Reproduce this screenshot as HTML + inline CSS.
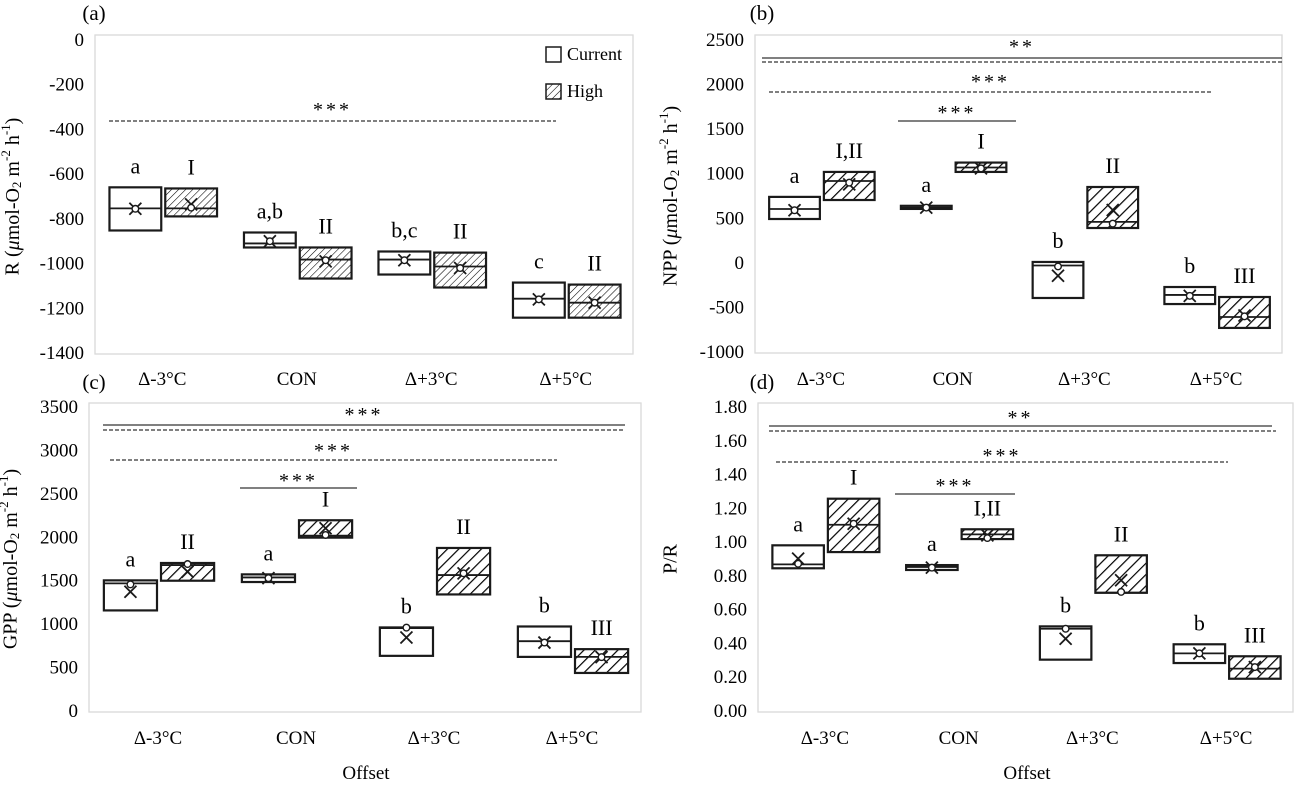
<!DOCTYPE html>
<html><head><meta charset="utf-8">
<style>
html,body{margin:0;padding:0;background:#fff;}
svg, svg text, svg tspan{font-family:"Liberation Serif","Times New Roman",serif;}
</style></head>
<body>
<svg id="chart" width="1296" height="780" viewBox="0 0 1296 780" xmlns="http://www.w3.org/2000/svg" font-family="Liberation Serif, serif">
<defs>
<pattern id="hatchA" patternUnits="userSpaceOnUse" width="5" height="5" patternTransform="rotate(45)"><line x1="0" y1="0" x2="0" y2="5" stroke="#000" stroke-width="1.1"/></pattern>
<pattern id="hatchB" patternUnits="userSpaceOnUse" width="8" height="8" patternTransform="rotate(45)"><line x1="0" y1="0" x2="0" y2="8" stroke="#000" stroke-width="2.4"/></pattern>
</defs>
</svg>
<script>
const categories=["Δ-3°C","CON","Δ+3°C","Δ+5°C"];
// Panel a (R)
const aTicks=[0,-200,-400,-600,-800,-1000,-1200,-1400];
const aCurQ3=[-659,-861,-946,-1085];
const aCurQ1=[-852,-928,-1049,-1242];
const aCurMed=[-753,-910,-982,-1157];
const aCurMean=[-755,-900,-985,-1160];
const aCurPt=[-755,-900,-985,-1160];
const aHiQ3=[-664,-928,-951,-1094];
const aHiQ1=[-789,-1067,-1107,-1242];
const aHiMed=[-753,-982,-1013,-1175];
const aHiMean=[-735,-990,-1020,-1175];
const aHiPt=[-750,-985,-1020,-1175];
const aCurLbl=["a","a,b","b,c","c"];
const aHiLbl=["I","II","II","II"];
// Panel b (NPP)
const bTicks=[2500,2000,1500,1000,500,0,-500,-1000];
const bCurQ3=[740,640,10,-271];
const bCurQ1=[492,605,-394,-462];
const bCurMed=[604,620,-30,-360];
const bCurMean=[590,620,-145,-370];
const bCurPt=[590,620,-40,-370];
const bHiQ3=[1020,1125,851,-383];
const bHiQ1=[705,1020,391,-730];
const bHiMed=[918,1070,460,-607];
const bHiMean=[880,1060,593,-590];
const bHiPt=[900,1060,440,-600];
const bCurLbl=["a","a","b","b"];
const bHiLbl=["I,II","I","II","III"];
// Panel c (GPP)
const cTicks=[3500,3000,2500,2000,1500,1000,500,0];
const cCurQ3=[1504,1573,962,973];
const cCurQ1=[1158,1485,635,623];
const cCurMed=[1469,1538,955,804];
const cCurMean=[1373,1530,846,788];
const cCurPt=[1458,1530,960,788];
const cHiQ3=[1704,2196,1877,712];
const cHiQ1=[1500,1996,1342,438];
const cHiMed=[1680,2019,1565,623];
const cHiMean=[1604,2104,1585,620];
const cHiPt=[1692,2027,1585,620];
const cCurLbl=["a","a","b","b"];
const cHiLbl=["II","I","II","III"];
// Panel d (P/R)
const dTicks=[1.8,1.6,1.4,1.2,1.0,0.8,0.6,0.4,0.2,0.0];
const dCurQ3=[0.981,0.864,0.501,0.395];
const dCurQ1=[0.845,0.835,0.304,0.284];
const dCurMed=[0.868,0.853,0.487,0.341];
const dCurMean=[0.902,0.849,0.428,0.341];
const dCurPt=[0.872,0.849,0.487,0.341];
const dHiQ3=[1.257,1.076,0.922,0.324];
const dHiQ1=[0.941,1.018,0.70,0.191];
const dHiMed=[1.103,1.046,0.70,0.251];
const dHiMean=[1.109,1.04,0.774,0.26];
const dHiPt=[1.109,1.024,0.705,0.26];
const dCurLbl=["a","a","b","b"];
const dHiLbl=["I","I,II","II","III"];

const NS="http://www.w3.org/2000/svg";
const svg=document.getElementById('chart');
function mk(tag,attrs,parent,text){const e=document.createElementNS(NS,tag);for(const k in attrs)e.setAttribute(k,attrs[k]);if(tag==='text')e.setAttribute('font-family','Liberation Serif, serif');if(text!==undefined)e.textContent=text;(parent||svg).appendChild(e);return e;}

const panels=[
 {id:'a',letter:'(a)',lx:94,ly:20,left:95,right:633,top:35,bottom:354,yTop:40,yBot:353,max:0,min:-1400,ticks:aTicks,dec:0,
  cur:[aCurQ3,aCurQ1,aCurMed,aCurMean,aCurPt],hi:[aHiQ3,aHiQ1,aHiMed,aHiMean,aHiPt],curL:aCurLbl,hiL:aHiLbl,hatch:'hatchA',
  title:'R',titleX:14,xlY:385,legend:true,
  sig:[{t:'***',x1:109,x2:556,y:121,dash:true,ty:106}]},
 {id:'b',letter:'(b)',lx:762,ly:20,left:755,right:1282,top:35,bottom:353,yTop:40,yBot:352,max:2500,min:-1000,ticks:bTicks,dec:0,
  cur:[bCurQ3,bCurQ1,bCurMed,bCurMean,bCurPt],hi:[bHiQ3,bHiQ1,bHiMed,bHiMean,bHiPt],curL:bCurLbl,hiL:bHiLbl,hatch:'hatchB',
  title:'NPP',titleX:672,xlY:385,
  sig:[{t:'**',x1:762,x2:1282,y:58,dash:false,ty:43},{t:'',x1:762,x2:1282,y:62,dash:true},
       {t:'***',x1:769,x2:1212,y:92,dash:true,ty:78},{t:'***',x1:898,x2:1016,y:121,dash:false,ty:109}]},
 {id:'c',letter:'(c)',lx:94,ly:389,left:89,right:641,top:403,bottom:712,yTop:407,yBot:711,max:3500,min:0,ticks:cTicks,dec:0,
  cur:[cCurQ3,cCurQ1,cCurMed,cCurMean,cCurPt],hi:[cHiQ3,cHiQ1,cHiMed,cHiMean,cHiPt],curL:cCurLbl,hiL:cHiLbl,hatch:'hatchB',
  title:'GPP',titleX:12,xlY:744,offsetX:366,
  sig:[{t:'***',x1:103,x2:625,y:425,dash:false,ty:411},{t:'',x1:103,x2:625,y:430,dash:true},
       {t:'***',x1:110,x2:557,y:460,dash:true,ty:447},{t:'***',x1:240,x2:357,y:488,dash:false,ty:477}]},
 {id:'d',letter:'(d)',lx:762,ly:389,left:758,right:1293,top:403,bottom:712,yTop:407,yBot:711,max:1.8,min:0,ticks:dTicks,dec:2,
  cur:[dCurQ3,dCurQ1,dCurMed,dCurMean,dCurPt],hi:[dHiQ3,dHiQ1,dHiMed,dHiMean,dHiPt],curL:dCurLbl,hiL:dHiLbl,hatch:'hatchB',
  title:'P/R',plain:true,titleX:672,xlY:744,offsetX:1027,
  sig:[{t:'**',x1:769,x2:1272,y:426,dash:false,ty:414},{t:'',x1:769,x2:1276,y:431,dash:true},
       {t:'***',x1:776,x2:1228,y:462,dash:true,ty:452},{t:'***',x1:895,x2:1015,y:494,dash:false,ty:482}]}
];

panels.forEach(p=>{
  const g=mk('g',{});
  
  
  const Y=v=>p.yTop+(p.max-v)/(p.max-p.min)*(p.yBot-p.yTop);
  const band=(p.right-p.left)/4;
  const X=i=>p.left+band*(i+0.5);
  const frame=mk('rect',{x:p.left,y:p.top,width:p.right-p.left,height:p.bottom-p.top,fill:'none',stroke:'#d9d9d9','stroke-width':1.3},g);
  
  
  const pl=mk('text',{x:p.lx,y:p.ly,'font-size':21,'text-anchor':'middle'},g,p.letter);
  
  
  p.ticks.forEach(t=>{
    const tx=mk('text',{x:p.left-11,y:Y(t)+6,'font-size':19,'text-anchor':'end'},g,t.toFixed(p.dec));
    
    
  });
  const cy=(p.yTop+p.yBot)/2;
  const tt=mk('text',{x:p.titleX,y:cy,'font-size':20,'text-anchor':'middle',transform:`rotate(-90 ${p.titleX} ${cy})`,'dominant-baseline':'middle'},g);
  
  
  if(p.plain){tt.textContent=p.title;}
  else{
    tt.appendChild(document.createTextNode(p.title+' ('));
    mk('tspan',{'font-style':'italic'},tt,'μ');
    mk('tspan',{},tt,'mol-O');
    mk('tspan',{'font-size':13,dy:4},tt,'2');
    mk('tspan',{dy:-4},tt,' m');
    mk('tspan',{'font-size':13,dy:-7},tt,'-2');
    mk('tspan',{dy:7},tt,' h');
    mk('tspan',{'font-size':13,dy:-7},tt,'-1');
    mk('tspan',{dy:7},tt,')');
  }
  categories.forEach((c,i)=>{
    const xl=mk('text',{x:X(i),y:p.xlY,'font-size':19,'text-anchor':'middle'},g,c);
    
    
  });
  if(p.offsetX){
    const ol=mk('text',{x:p.offsetX,y:779,'font-size':19,'text-anchor':'middle'},g,'Offset');
    
    
  }
  p.sig.forEach(s=>{
    const ln=mk('line',{x1:s.x1,x2:s.x2,y1:s.y,y2:s.y,stroke:'#000','stroke-width':1.1,'stroke-dasharray':s.dash?'4,2':'none'},g);
    
    
    if(s.t){
      const st=mk('text',{x:(s.x1+s.x2)/2,y:s.ty+10,'font-size':20,'text-anchor':'middle','letter-spacing':'3'},g,s.t);
      
      
    }
  });
  const bw=band*0.385;
  [['cur',p.cur,p.curL],['hi',p.hi,p.hiL]].forEach(([kind,arr,lbl])=>{
    const [q3,q1,med,mean,pt]=arr;
    categories.forEach((c,i)=>{
      const x0=kind==='cur'?X(i)-bw-1:X(i)+3;
      const yt=Y(q3[i]),yb=Y(q1[i]);
      const bx=mk('rect',{x:x0,y:yt,width:bw,height:Math.max(yb-yt,2),fill:kind==='cur'?'#fff':'url(#'+p.hatch+')',stroke:'#1a1a1a','stroke-width':2.2},g);
      
      
      const md=mk('line',{x1:x0,x2:x0+bw,y1:Y(med[i]),y2:Y(med[i]),stroke:'#1a1a1a','stroke-width':1.8},g);
      
      
      const mx=x0+bw/2,my=Y(mean[i]),s=6;
      const xm=mk('path',{d:`M${mx-s} ${my-s}L${mx+s} ${my+s}M${mx-s} ${my+s}L${mx+s} ${my-s}`,stroke:'#1a1a1a','stroke-width':1.8,fill:'none'},g);
      
      
      const ci=mk('circle',{cx:mx,cy:Y(pt[i]),r:3.3,fill:'#fff',stroke:'#1a1a1a','stroke-width':1.4},g);
      
      
      const lt=mk('text',{x:mx,y:yt-14,'font-size':22,'text-anchor':'middle'},g,lbl[i]);
      
      
    });
  });
  if(p.legend){
    const lg=mk('g',{},g);
    
    
    const r1=mk('rect',{x:546,y:47,width:15,height:15,fill:'#fff',stroke:'#1a1a1a','stroke-width':1.5},lg);
    
    
    const t1=mk('text',{x:567,y:60,'font-size':18},lg,'Current');
    
    
    const r2=mk('rect',{x:546,y:84,width:15,height:15,fill:'url(#hatchA)',stroke:'#1a1a1a','stroke-width':1.5},lg);
    
    
    const t2=mk('text',{x:567,y:97,'font-size':18},lg,'High');
    
    
  }
});
</script>
</body></html>
